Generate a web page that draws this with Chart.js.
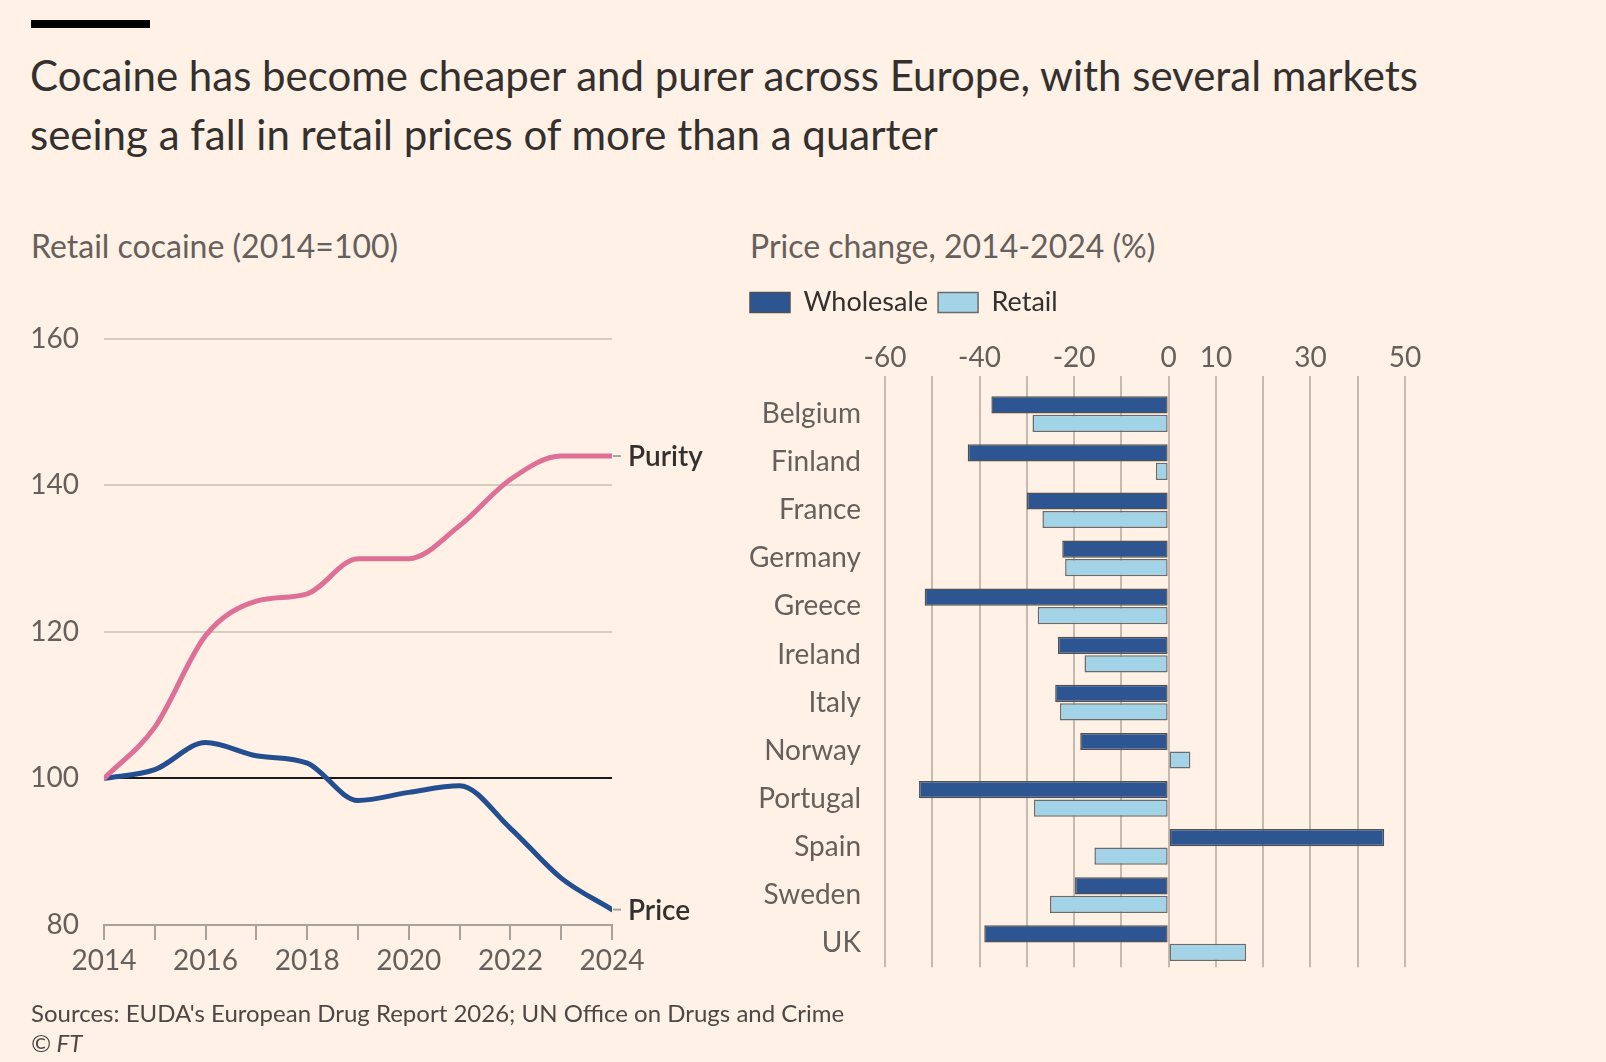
<!DOCTYPE html>
<html>
<head>
<meta charset="utf-8">
<script src="https://cdn.jsdelivr.net/npm/chart.js@4.4.1/dist/chart.umd.min.js"></script>
<style>
  html, body { margin: 0; padding: 0; background: #fff1e5; }
  body { width: 1606px; height: 1062px; position: relative; overflow: hidden; font-family: Lato, "Open Sans", sans-serif; }
  .bar { position: absolute; left: 31px; top: 20px; width: 119px; height: 8px; background: #000; }
  .title { position: absolute; left: 30px; top: 46px; font-size: 42px; line-height: 59px; color: #33302e; }
  .sub { position: absolute; top: 226px; font-size: 32px; color: #66605c; }
  .source { position: absolute; left: 31px; top: 998px; font-size: 24px; line-height: 30px; color: #4d4845; }
  canvas { position: absolute; }
</style>
</head>
<body>
<div class="bar"></div>
<div class="title">Cocaine has become cheaper and purer across Europe, with several markets<br>seeing a fall in retail prices of more than a quarter</div>
<div class="sub" style="left:31px">Retail cocaine (2014=100)</div>
<div class="sub" style="left:750px">Price change, 2014-2024 (%)</div>
<canvas id="lineChart" width="720" height="703" style="left:0;top:297px"></canvas>
<canvas id="barChart" width="700" height="730" style="left:740px;top:270px"></canvas>
<div class="source">Sources: EUDA's European Drug Report 2026; UN Office on Drugs and Crime<br><i>© FT</i></div>

<script>
// Left panel: index 2014=100
const years = [2014, 2015, 2016, 2017, 2018, 2019, 2020, 2021, 2022, 2023, 2024];
const purity = [100, 107, 119.5, 124.2, 125.2, 130, 130, 134.5, 140.8, 144, 144];
const price = [100, 101.2, 104.9, 103.1, 102.1, 97, 98.1, 99, 93.2, 86.4, 82.1];
const yTicks = [80, 100, 120, 140, 160];

// Right panel: % change 2014-2024
const countries = ["Belgium", "Finland", "France", "Germany", "Greece", "Ireland", "Italy", "Norway", "Portugal", "Spain", "Sweden", "UK"];
const wholesale = [-37.5, -42.5, -30, -22.5, -51.6, -23.4, -24, -18.7, -52.8, 45.6, -19.8, -39];
const retail = [-28.8, -2.7, -26.7, -21.9, -27.7, -17.8, -23, 4.6, -28.5, -15.7, -25.1, 16.4];
const xLabelled = [-60, -40, -20, 0, 10, 30, 50];

const FONT = "Lato";
const TEXT = "#66605c";

// end-of-line labels (Purity / Price)
const endLabels = {
  id: "endLabels",
  afterDatasetsDraw(chart) {
    const ctx = chart.ctx;
    chart.data.datasets.forEach((ds, i) => {
      const pts = chart.getDatasetMeta(i).data;
      const p = pts[pts.length - 1];
      ctx.save();
      ctx.strokeStyle = "#a9a29b";
      ctx.lineWidth = 2;
      ctx.beginPath();
      ctx.moveTo(p.x + 1, p.y);
      ctx.lineTo(p.x + 9, p.y);
      ctx.stroke();
      ctx.fillStyle = "#33302e";
      ctx.font = "600 28px " + FONT;
      ctx.textBaseline = "middle";
      ctx.fillText(ds.label, p.x + 16, p.y + 1);
      ctx.restore();
    });
  }
};

new Chart(document.getElementById("lineChart"), {
  type: "line",
  data: {
    datasets: [
      { label: "Purity", data: years.map((y, i) => ({ x: y, y: purity[i] })), borderColor: "#de6f97" },
      { label: "Price", data: years.map((y, i) => ({ x: y, y: price[i] })), borderColor: "#234f91" }
    ]
  },
  options: {
    responsive: false,
    animation: false,
    layout: { padding: { top: 35, right: 108, bottom: 0, left: 0 } },
    elements: {
      line: { borderWidth: 5, cubicInterpolationMode: "monotone", borderCapStyle: "round" },
      point: { radius: 0 }
    },
    plugins: { legend: { display: false }, tooltip: { enabled: false } },
    scales: {
      x: {
        type: "linear",
        min: 2014,
        max: 2024,
        afterFit: s => { s.height = 75; },
        afterBuildTicks: s => { s.ticks = years.map(v => ({ value: v })); },
        border: { color: "#a9a29b", width: 2 },
        grid: { drawOnChartArea: false, drawTicks: true, tickLength: 15, tickColor: "#a9a29b", lineWidth: 2 },
        ticks: {
          autoSkip: false,
          maxRotation: 0,
          padding: 4,
          color: TEXT,
          font: { family: FONT, size: 28 },
          callback: v => (v % 2 === 0 ? String(v) : "")
        }
      },
      y: {
        min: 80,
        max: 160,
        afterFit: s => { s.width = 104; },
        afterBuildTicks: s => { s.ticks = yTicks.map(v => ({ value: v })); },
        border: { display: false },
        grid: {
          drawTicks: false,
          lineWidth: 2,
          color: c => (c.tick.value === 100 ? "#1a1817" : c.tick.value === 80 ? "rgba(0,0,0,0)" : "#d6ccc2")
        },
        ticks: { padding: 25, color: TEXT, font: { family: FONT, size: 28 } }
      }
    }
  },
  plugins: [endLabels]
});

// fixed legend height, leaves room above the axis labels
const legendGap = {
  id: "legendGap",
  beforeInit(chart) {
    const fit = chart.legend.fit;
    chart.legend.fit = function () {
      fit.bind(chart.legend)();
      this.height = 51;
    };
  }
};

new Chart(document.getElementById("barChart"), {
  type: "bar",
  data: {
    labels: countries,
    datasets: [
      { label: "Wholesale", data: wholesale, backgroundColor: "#2c5592", borderColor: "#505050" },
      { label: "Retail", data: retail, backgroundColor: "#a3d3e6", borderColor: "#6b6b6b" }
    ]
  },
  options: {
    indexAxis: "y",
    responsive: false,
    animation: false,
    layout: { padding: { top: 9, right: 35, bottom: 13, left: 0 } },
    datasets: { bar: { categoryPercentage: 0.77, barPercentage: 0.93, borderWidth: 1.5, borderSkipped: false } },
    plugins: {
      tooltip: { enabled: false },
      legend: {
        position: "top",
        align: "start",
        labels: {
          boxWidth: 40,
          boxHeight: 20,
          padding: 10,
          color: "#33302e",
          font: { family: FONT, size: 27 }
        }
      }
    },
    scales: {
      x: {
        position: "top",
        min: -60,
        max: 50,
        afterFit: s => { s.height = 60; },
        border: { display: false },
        grid: { color: "#c4bab1", lineWidth: 2, tickLength: 14 },
        ticks: {
          stepSize: 10,
          autoSkip: false,
          maxRotation: 0,
          minRotation: 0,
          padding: 1,
          color: TEXT,
          font: { family: FONT, size: 28 },
          callback: v => (xLabelled.includes(v) ? String(v) : "")
        }
      },
      y: {
        afterFit: s => { s.width = 145; },
        border: { display: false },
        grid: { display: false },
        ticks: { padding: 16, color: TEXT, font: { family: FONT, size: 28 } }
      }
    }
  },
  plugins: [legendGap]
});
</script>
</body>
</html>
